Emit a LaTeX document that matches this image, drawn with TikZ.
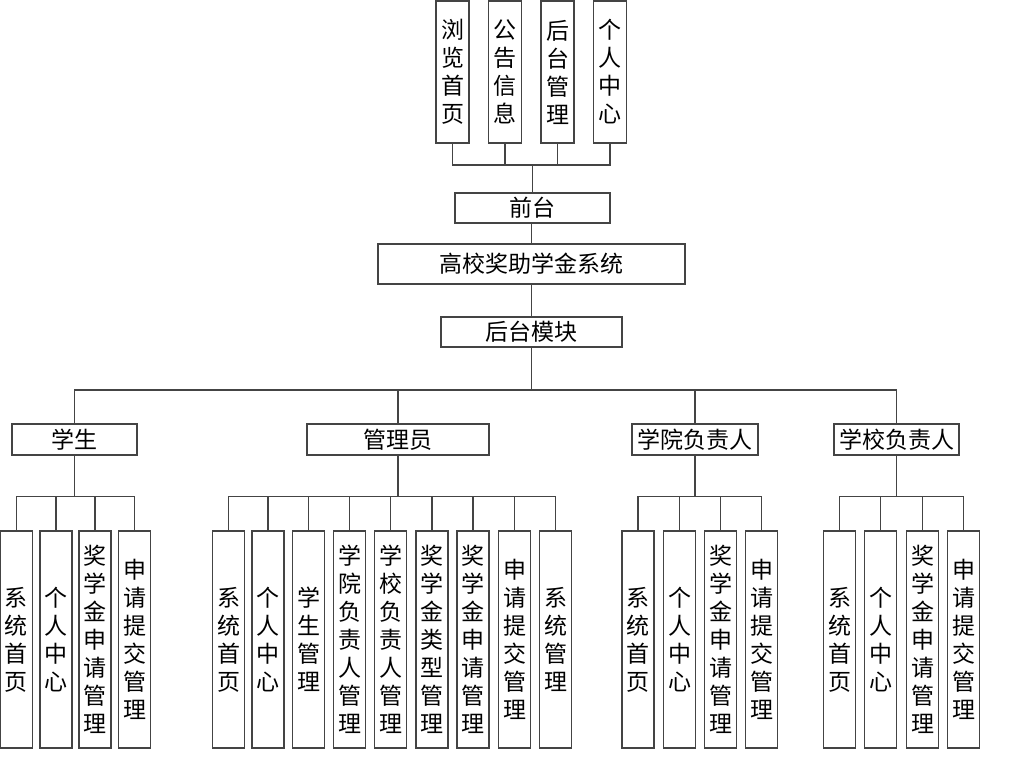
\documentclass[tikz,border=0pt]{standalone}
\usepackage{fontspec}
\newfontfamily\cjk{Noto Sans CJK SC}
\definecolor{lc}{HTML}{444444}
\tikzset{
  x=1pt, y=-1pt,
  bx/.style={draw=lc, line width=1.1pt, inner sep=0pt, align=center, text=black,
    font=\cjk\fontsize{23}{28}\selectfont},
  hbox/.style={bx, minimum height=#1},
  vbox/.style={bx, minimum width=32pt, minimum height=217pt},
  tbox/.style={bx, minimum width=33pt, minimum height=142pt},
  conn/.style={draw=lc, line width=1.1pt},
}
\begin{document}
\begin{tikzpicture}
\useasboundingbox[fill=white] (0,0) rectangle (1024,761);
% top modules
\node[tbox] (t1) at (452.5,72) {浏\\览\\首\\页};
\node[tbox] (t2) at (505,72) {公\\告\\信\\息};
\node[tbox] (t3) at (557.5,72) {后\\台\\管\\理};
\node[tbox] (t4) at (610,72) {个\\人\\中\\心};
\node[hbox=30pt, minimum width=155pt] (front) at (532.5,208) {前台};
\node[hbox=40pt, minimum width=307pt] (sys) at (531.5,264) {高校奖助学金系统};
\node[hbox=30pt, minimum width=181pt] (back) at (531.5,332) {后台模块};
% roles
\node[hbox=31pt, minimum width=125pt] (stu) at (74.5,439.5) {学生};
\node[hbox=31pt, minimum width=182pt] (adm) at (398,439.5) {管理员};
\node[hbox=31pt, minimum width=126pt] (col) at (695,439.5) {学院负责人};
\node[hbox=31pt, minimum width=125pt] (sch) at (896.5,439.5) {学校负责人};
% student children
\node[vbox] (s1) at (16.5,639.5) {系\\统\\首\\页};
\node[vbox] (s2) at (56,639.5) {个\\人\\中\\心};
\node[vbox] (s3) at (95,639.5) {奖\\学\\金\\申\\请\\管\\理};
\node[vbox] (s4) at (134.5,639.5) {申\\请\\提\\交\\管\\理};
% admin children
\node[vbox] (a1) at (228.5,639.5) {系\\统\\首\\页};
\node[vbox] (a2) at (268,639.5) {个\\人\\中\\心};
\node[vbox] (a3) at (308.5,639.5) {学\\生\\管\\理};
\node[vbox] (a4) at (349.5,639.5) {学\\院\\负\\责\\人\\管\\理};
\node[vbox] (a5) at (390.5,639.5) {学\\校\\负\\责\\人\\管\\理};
\node[vbox] (a6) at (432,639.5) {奖\\学\\金\\类\\型\\管\\理};
\node[vbox] (a7) at (473,639.5) {奖\\学\\金\\申\\请\\管\\理};
\node[vbox] (a8) at (514.5,639.5) {申\\请\\提\\交\\管\\理};
\node[vbox] (a9) at (555.5,639.5) {系\\统\\管\\理};
% college children
\node[vbox] (c1) at (638,639.5) {系\\统\\首\\页};
\node[vbox] (c2) at (679.5,639.5) {个\\人\\中\\心};
\node[vbox] (c3) at (720.5,639.5) {奖\\学\\金\\申\\请\\管\\理};
\node[vbox] (c4) at (761.5,639.5) {申\\请\\提\\交\\管\\理};
% school children
\node[vbox] (h1) at (839.5,639.5) {系\\统\\首\\页};
\node[vbox] (h2) at (880.5,639.5) {个\\人\\中\\心};
\node[vbox] (h3) at (922.5,639.5) {奖\\学\\金\\申\\请\\管\\理};
\node[vbox] (h4) at (963.5,639.5) {申\\请\\提\\交\\管\\理};
% bus coordinates
\coordinate (tbus) at (532,165);
\coordinate (rbus) at (531.5,390);
\coordinate (cbus) at (0,496.5);
% connectors: top
\draw[conn] (front.north) -- (front.north |- tbus);
\draw[conn] (t1.south) -- (t1.south |- tbus) -- (t4.south |- tbus) -- (t4.south);
\foreach \t in {t2,t3} \draw[conn] (\t.south) -- (\t.south |- tbus);
\draw[conn] (sys.north) -- (sys.north |- front.south);
\draw[conn] (sys.south) -- (back.north);
% roles
\draw[conn] (back.south) -- (back.south |- rbus);
\draw[conn] (stu.north) -- (stu.north |- rbus) -- (sch.north |- rbus) -- (sch.north);
\foreach \r in {adm,col} \draw[conn] (\r.north) -- (\r.north |- rbus);
% student
\draw[conn] (stu.south) -- (stu.south |- cbus);
\draw[conn] (s1.north) -- (s1.north |- cbus) -- (s4.north |- cbus) -- (s4.north);
\foreach \c in {s2,s3} \draw[conn] (\c.north) -- (\c.north |- cbus);
% admin
\draw[conn] (adm.south) -- (adm.south |- cbus);
\draw[conn] (a1.north) -- (a1.north |- cbus) -- (a9.north |- cbus) -- (a9.north);
\foreach \c in {a2,a3,a4,a5,a6,a7,a8} \draw[conn] (\c.north) -- (\c.north |- cbus);
% college
\draw[conn] (col.south) -- (col.south |- cbus);
\draw[conn] (c1.north) -- (c1.north |- cbus) -- (c4.north |- cbus) -- (c4.north);
\foreach \c in {c2,c3} \draw[conn] (\c.north) -- (\c.north |- cbus);
% school
\draw[conn] (sch.south) -- (sch.south |- cbus);
\draw[conn] (h1.north) -- (h1.north |- cbus) -- (h4.north |- cbus) -- (h4.north);
\foreach \c in {h2,h3} \draw[conn] (\c.north) -- (\c.north |- cbus);
\end{tikzpicture}
\end{document}
